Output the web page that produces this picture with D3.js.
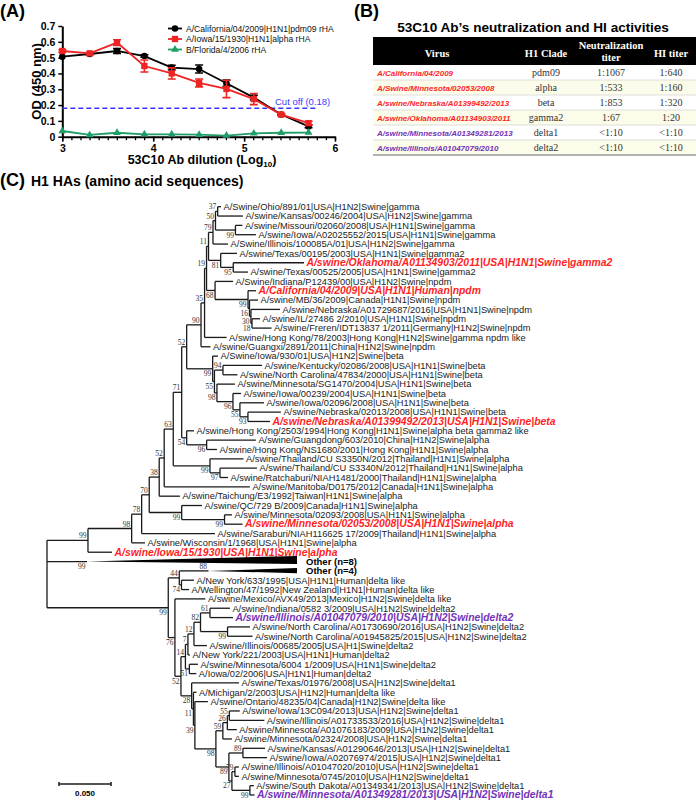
<!DOCTYPE html>
<html>
<head>
<meta charset="utf-8">
<script src="https://cdn.jsdelivr.net/npm/d3@7"></script>
<style>
  body { margin: 0; background: #fff; }
  svg { display: block; }
</style>
</head>
<body>
<div id="fig"></div>
<script>
// ---------- panel A data ----------
const dilution = [3.000, 3.301, 3.602, 3.903, 4.204, 4.505, 4.806, 5.107, 5.408, 5.709];
const odCalifornia = [0.506, 0.523, 0.542, 0.510, 0.437, 0.428, 0.338, 0.247, 0.140, 0.065];
const errCalifornia = [0.000, 0.004, 0.015, 0.008, 0.015, 0.025, 0.020, 0.015, 0.005, 0.008];
const odIowa = [0.542, 0.527, 0.595, 0.447, 0.400, 0.340, 0.302, 0.238, 0.140, 0.086];
const errIowa = [0.008, 0.005, 0.018, 0.038, 0.035, 0.025, 0.055, 0.035, 0.006, 0.012];
const odFlorida = [0.036, 0.011, 0.025, 0.015, 0.015, 0.013, 0.007, 0.021, 0.025, 0.026];
const seriesNames = ["A/California/04/2009|H1N1|pdm09 rHA", "A/Iowa/15/1930|H1N1|alpha rHA", "B/Florida/4/2006 rHA"];
const cutoff = 0.18;
const xTicksA = [3, 4, 5, 6];
const yTicksA = [0, 0.1, 0.2, 0.3, 0.4, 0.5, 0.6, 0.7];

// ---------- panel B data ----------
const tableViruses = ["A/California/04/2009", "A/Swine/Minnesota/02053/2008", "A/swine/Nebraska/A01399492/2013",
  "A/swine/Oklahoma/A01134903/2011", "A/swine/Minnesota/A01349281/2013", "A/swine/Illinois/A01047079/2010"];
const tableClades = ["pdm09", "alpha", "beta", "gamma2", "delta1", "delta2"];
const neutTiters = ["1:1067", "1:533", "1:853", "1:67", "<1:10", "<1:10"];
const hiTiters = ["1:640", "1:160", "1:320", "1:20", "<1:10", "<1:10"];
const virusNeutralized = [true, true, true, true, false, false];

// ---------- panel C data ----------
const leafNames = [
  "A/Swine/Ohio/891/01|USA|H1N2|Swine|gamma",
  "A/swine/Kansas/00246/2004|USA|H1N2|Swine|gamma",
  "A/swine/Missouri/02060/2008|USA|H1N1|Swine|gamma",
  "A/swine/Iowa/A02025552/2015|USA|H1N1|Swine|gamma",
  "A/Swine/Illinois/100085A/01|USA|H1N2|Swine|gamma",
  "A/swine/Texas/00195/2003|USA|H1N1|Swine|gamma2",
  "A/swine/Oklahoma/A01134903/2011|USA|H1N1|Swine|gamma2",
  "A/swine/Texas/00525/2005|USA|H1N1|Swine|gamma2",
  "A/Swine/Indiana/P12439/00|USA|H1N2|Swine|npdm",
  "A/California/04/2009|USA|H1N1|Human|npdm",
  "A/swine/MB/36/2009|Canada|H1N1|Swine|npdm",
  "A/swine/Nebraska/A01729687/2016|USA|H1N1|Swine|npdm",
  "A/swine/IL/27486 2/2010|USA|H1N1|Swine|npdm",
  "A/swine/Freren/IDT13837 1/2011|Germany|H1N2|Swine|npdm",
  "A/swine/Hong Kong/78/2003|Hong Kong|H1N2|Swine|gamma npdm like",
  "A/swine/Guangxi/2891/2011|China|H1N2|Swine|npdm",
  "A/Swine/Iowa/930/01|USA|H1N2|Swine|beta",
  "A/swine/Kentucky/02086/2008|USA|H1N1|Swine|beta",
  "A/swine/North Carolina/47834/2000|USA|H1N1|Swine|beta",
  "A/swine/Minnesota/SG1470/2004|USA|H1N1|Swine|beta",
  "A/swine/Iowa/00239/2004|USA|H1N1|Swine|beta",
  "A/swine/Iowa/02096/2008|USA|H1N1|Swine|beta",
  "A/swine/Nebraska/02013/2008|USA|H1N1|Swine|beta",
  "A/swine/Nebraska/A01399492/2013|USA|H1N1|Swine|beta",
  "A/swine/Hong Kong/2503/1994|Hong Kong|H1N1|Swine|alpha beta gamma2 like",
  "A/swine/Guangdong/603/2010|China|H1N2|Swine|alpha",
  "A/swine/Hong Kong/NS1680/2001|Hong Kong|H1N1|Swine|alpha",
  "A/swine/Thailand/CU S3350N/2012|Thailand|H1N1|Swine|alpha",
  "A/swine/Thailand/CU S3340N/2012|Thailand|H1N1|Swine|alpha",
  "A/swine/Ratchaburi/NIAH1481/2000|Thailand|H1N1|Swine|alpha",
  "A/swine/Manitoba/D0175/2012|Canada|H1N1|Swine|alpha",
  "A/swine/Taichung/E3/1992|Taiwan|H1N1|Swine|alpha",
  "A/swine/QC/729 B/2009|Canada|H1N1|Swine|alpha",
  "A/swine/Minnesota/02093/2008|USA|H1N1|Swine|alpha",
  "A/swine/Minnesota/02053/2008|USA|H1N1|Swine|alpha",
  "A/swine/Saraburi/NIAH116625 17/2009|Thailand|H1N1|Swine|alpha",
  "A/swine/Wisconsin/1/1968|USA|H1N1|Swine|alpha",
  "A/swine/Iowa/15/1930|USA|H1N1|Swine|alpha",
  "Other (n=8)",
  "Other (n=4)",
  "A/New York/633/1995|USA|H1N1|Human|delta like",
  "A/Wellington/47/1992|New Zealand|H1N1|Human|delta like",
  "A/swine/Mexico/AVX49/2013|Mexico|H1N2|Swine|delta like",
  "A/swine/Indiana/0582 3/2009|USA|H1N2|Swine|delta2",
  "A/swine/Illinois/A01047079/2010|USA|H1N2|Swine|delta2",
  "A/swine/North Carolina/A01730690/2016|USA|H1N2|Swine|delta2",
  "A/swine/North Carolina/A01945825/2015|USA|H1N2|Swine|delta2",
  "A/swine/Illinois/00685/2005|USA|H1|Swine|delta2",
  "A/New York/221/2003|USA|H1N1|Human|delta2",
  "A/swine/Minnesota/6004 1/2009|USA|H1N1|Swine|delta2",
  "A/Iowa/02/2006|USA|H1N1|Human|delta2",
  "A/swine/Texas/01976/2008|USA|H1N2|Swine|delta1",
  "A/Michigan/2/2003|USA|H1N2|Human|delta like",
  "A/swine/Ontario/48235/04|Canada|H1N2|Swine|delta like",
  "A/swine/Iowa/13C094/2013|USA|H1N2|Swine|delta1",
  "A/swine/Illinois/A01733533/2016|USA|H1N2|Swine|delta1",
  "A/swine/Minnesota/A01076183/2009|USA|H1N2|Swine|delta1",
  "A/swine/Minnesota/02324/2008|USA|H1N2|Swine|delta1",
  "A/swine/Kansas/A01290646/2013|USA|H1N2|Swine|delta1",
  "A/swine/Iowa/A02076974/2015|USA|H1N2|Swine|delta1",
  "A/swine/Illinois/A01047020/2010|USA|H1N2|Swine|delta1",
  "A/swine/Minnesota/0745/2010|USA|H1N2|Swine|delta1",
  "A/swine/South Dakota/A01349341/2013|USA|H1N2|Swine|delta1",
  "A/swine/Minnesota/A01349281/2013|USA|H1N2|Swine|delta1"
];
const redLeaves = [7, 10, 24, 35, 38];
const purpleLeaves = [45, 64];
const collapsedLeaves = [39, 40];
const collapsedCounts = [8, 4];
const collapsedDepths = [0.2019, 0.0851];
const collapsedBoot = [99, 88];

// tree topology, branch lengths (subst./site) and bootstrap values, newick pieces
const nwGamma = "((((L1:0.0032,L2:0.0243)37:0.0021,(L3:0.0067,L4:0.0197)99:0.0192)50:0.0024,L5:0.0144)79:0.0043,(L6:0.0157,(L7:0.0680,L8:0.0141)95:0.0121)81:0.0117)11:0.0019";
const nwNpdm = "(L9:0.0173,(L10:0.0077,(L11:0.0082,(L12:0.0279,(L13:0.0077,L14:0.0188)18:0.0010)30:0.0014)16:0.0014)99:0.0317)68:0.0082";
const nwBeta = "(L17:0.0051,((L18:0.0375,L19:0.0139)94:0.0082,(L20:0.0173,(L21:0.0077,(L22:0.0231,(L23:0.0317,L24:0.0212)93:0.0077)55:0.0067)96:0.0154)98:0.0024)55:0.0017)99:0.0250";
const nwAsia = "(L25:0.0070,(L26:0.0474,L27:0.0099)96:0.0192)54:0.0048";
const nwThai = "(L28:0.0322,(L29:0.0356,L30:0.0077)97:0.0096)99:0.0353";
const nwQC = "(L33:0.0195,(L34:0.0072,L35:0.0173)99:0.0412)99:0.0312";
const nwAlpha = `((((((((((((${nwGamma},${nwNpdm})19:0.0019,L15:0.0212)35:0.0034,L16:0.0091)90:0.0138,${nwBeta})52:0.0048,${nwAsia})71:0.0081,${nwThai})63:0.0087,L31:0.0824)52:0.0048,L32:0.0199)38:0.0096,${nwQC})70:0.0073,L36:0.0705)78:0.0096,L37:0.0128)98:0.0420,L38:0.0231)99:0.0394`;
const nwDelta2 = "((((L44:0.0192,L45:0.0221)61:0.0091,(L46:0.0216,L47:0.0240)99:0.0260)82:0.0063,L48:0.0125)12:0.0058,L49:0.0019)7:0.0024";
const nwD14 = `(${nwDelta2},(L50:0.0082,L51:0.0067)51:0.0038)14:0.0043`;
const nwDelta1 = "(L52:0.0455,(L53:0.0029,(L54:0.0125,((((L55:0.0101,L56:0.0337)55:0.0019,L57:0.0091)26:0.0043,L58:0.0087)59:0.0067,((L59:0.0212,L60:0.0231)89:0.0135,((L61:0.0038,L62:0.0038)79:0.0029,(L63:0.0038,L64:0.0045)99:0.0173)27:0.0029)89:0.0125)98:0.0202)39:0.0014)11:0.0017)28:0.0103";
const nwDelta = `((L40:0.0281,(L41:0.0120,L42:0.0072)74:0.0021)44:0.0106,(L43:0.0293,(${nwD14},${nwDelta1})52:0.0058)76:0.0064)99:0.1166`;
const treeNewick = `(${nwAlpha},L39:0.0385,${nwDelta});`;

const RED = "#ff1f1f", PURPLE = "#7434b8";
const SANS = "'Liberation Sans', Arial, sans-serif";
const SERIF = "'Liberation Serif', 'Times New Roman', serif";

const svg = d3.select("#fig").append("svg")
    .attr("width", 696)
    .attr("height", 800)
    .style("font-family", SANS);

// ================= panel A =================
const gA = svg.append("g");
const xA = d3.scaleLinear().domain([3, 6]).range([62.3, 335]);
const yA = d3.scaleLinear().domain([0, 0.7]).range([136.7, 26]);

gA.append("text").attr("x", 0).attr("y", 17)
    .attr("font-size", 18).attr("font-weight", "bold").text("(A)");

// minor x ticks
gA.append("g")
    .attr("transform", `translate(0,${yA(0)})`)
    .call(d3.axisBottom(xA).tickValues(d3.range(3, 6.0001, 0.1)).tickSize(3.5).tickSizeOuter(0).tickFormat(""))
    .call(g => g.select(".domain").remove())
    .call(g => g.selectAll("line").attr("stroke-width", 1.3));

const xAxisA = gA.append("g")
    .attr("transform", `translate(0,${yA(0)})`)
    .call(d3.axisBottom(xA).tickValues(xTicksA).tickSize(5).tickSizeOuter(0).tickFormat(d3.format("d")));

const yAxisA = gA.append("g")
    .attr("transform", `translate(${xA(3)},0)`)
    .call(d3.axisLeft(yA).tickValues(yTicksA).tickSize(4).tickSizeOuter(0)
      .tickFormat(d => d === 0 ? "0" : d3.format(".1f")(d)));

[xAxisA, yAxisA].forEach(ax => {
  ax.select(".domain").attr("stroke-width", 2);
  ax.selectAll(".tick line").attr("stroke-width", 1.5);
  ax.selectAll("text").attr("font-size", 10.5).attr("font-weight", "bold")
      .attr("font-family", SANS).attr("fill", "#000");
});

gA.append("text")
    .attr("transform", `translate(41,${yA(0.35)}) rotate(-90)`)
    .attr("text-anchor", "middle").attr("font-size", 13).attr("font-weight", "bold")
    .text("OD (450 nm)");

const xl = gA.append("text").attr("x", 202).attr("y", 164)
    .attr("text-anchor", "middle").attr("font-size", 12.5).attr("font-weight", "bold");
xl.append("tspan").text("53C10 Ab dilution (Log");
xl.append("tspan").attr("font-size", 8).attr("dy", 3).text("10");
xl.append("tspan").attr("dy", -3).text(")");

// cut-off line
gA.append("line")
    .attr("x1", xA(3)).attr("x2", xA(5.8))
    .attr("y1", yA(cutoff)).attr("y2", yA(cutoff))
    .attr("stroke", "#3a3aff").attr("stroke-width", 1.5).attr("stroke-dasharray", "5,3");
gA.append("text").attr("x", 275).attr("y", yA(cutoff) - 3)
    .attr("font-size", 9.5).attr("fill", "#3a3aff")
    .text(`Cut off (${cutoff})`);

const seriesA = [
  { name: seriesNames[0], values: odCalifornia, err: errCalifornia, color: "#000", symbol: d3.symbolCircle, size: 34 },
  { name: seriesNames[1], values: odIowa, err: errIowa, color: "#ee2424", symbol: d3.symbolSquare, size: 40 },
  { name: seriesNames[2], values: odFlorida, err: null, color: "#1f9e68", symbol: d3.symbolTriangle, size: 26 }
];

const lineA = d3.line().x((d, i) => xA(dilution[i])).y(d => yA(d));

seriesA.forEach(s => {
  const g = gA.append("g");
  g.append("path").attr("d", lineA(s.values))
      .attr("fill", "none").attr("stroke", s.color).attr("stroke-width", 1.8);
  if (s.err) {
    s.values.forEach((v, i) => {
      const e = s.err[i];
      if (e <= 0) return;
      const cx = xA(dilution[i]);
      g.append("path")
          .attr("d", `M${cx},${yA(v - e)}V${yA(v + e)}M${cx - 4},${yA(v - e)}H${cx + 4}M${cx - 4},${yA(v + e)}H${cx + 4}`)
          .attr("stroke", s.color).attr("stroke-width", 1.6).attr("fill", "none");
    });
  }
  g.selectAll(".pt").data(s.values).join("path")
      .attr("transform", (d, i) => `translate(${xA(dilution[i])},${yA(d)})`)
      .attr("d", d3.symbol(s.symbol, s.size))
      .attr("fill", s.color);
});

// legend
const legA = gA.append("g");
seriesA.forEach((s, i) => {
  const ly = 28.5 + i * 10.5;
  legA.append("line").attr("x1", 168).attr("x2", 182).attr("y1", ly).attr("y2", ly)
      .attr("stroke", s.color).attr("stroke-width", 1.8);
  legA.append("path").attr("transform", `translate(175,${ly})`)
      .attr("d", d3.symbol(s.symbol, s.size)).attr("fill", s.color);
  legA.append("text").attr("x", 186).attr("y", ly + 3)
      .attr("font-size", 8.6).attr("fill", "#111").text(s.name);
});

// ================= panel B =================
const gB = svg.append("g");
gB.append("text").attr("x", 354).attr("y", 17)
    .attr("font-size", 18).attr("font-weight", "bold").text("(B)");
gB.append("text").attr("x", 533).attr("y", 32)
    .attr("text-anchor", "middle").attr("font-size", 13.6).attr("font-weight", "bold")
    .text("53C10 Ab\u2019s neutralization and HI activities");

const tLeft = 373, tRight = 696, headTop = 37, headBot = 65, rowH = 15;
const colX = [437, 546, 611, 671];

gB.append("rect").attr("x", tLeft).attr("y", headTop)
    .attr("width", tRight - tLeft).attr("height", headBot - headTop).attr("fill", "#000");
const headStyle = t => t.attr("fill", "#fff").attr("font-family", SERIF)
    .attr("font-weight", "bold").attr("font-size", 10.5).attr("text-anchor", "middle");
headStyle(gB.append("text").attr("x", colX[0]).attr("y", 57).text("Virus"));
headStyle(gB.append("text").attr("x", colX[1]).attr("y", 57).text("H1 Clade"));
headStyle(gB.append("text").attr("x", colX[2]).attr("y", 48.5).text("Neutralization"));
headStyle(gB.append("text").attr("x", colX[2]).attr("y", 61).text("titer"));
headStyle(gB.append("text").attr("x", colX[3]).attr("y", 57).text("HI titer"));

tableViruses.forEach((v, i) => {
  const top = headBot + i * rowH;
  const mid = top + rowH / 2;
  gB.append("rect").attr("x", tLeft).attr("y", top).attr("width", tRight - tLeft).attr("height", rowH)
      .attr("fill", i % 2 ? "#fcfcea" : "#fff");
  if (i > 0) {
    gB.append("line").attr("x1", tLeft).attr("x2", tRight).attr("y1", top).attr("y2", top)
        .attr("stroke", "#d6d6d6").attr("stroke-width", 0.8);
  }
  gB.append("text").attr("x", tLeft + 4).attr("y", mid + 3)
      .attr("font-size", 8).attr("font-weight", "bold").attr("font-style", "italic")
      .attr("fill", virusNeutralized[i] ? RED : PURPLE).text(v);
  [tableClades[i], neutTiters[i], hiTiters[i]].forEach((t, j) => {
    gB.append("text").attr("x", colX[j + 1]).attr("y", mid + 3.5)
        .attr("text-anchor", "middle").attr("font-family", SERIF).attr("font-size", 10)
        .attr("fill", "#333").text(t);
  });
});
gB.append("line").attr("x1", tLeft).attr("x2", tRight)
    .attr("y1", headBot + tableViruses.length * rowH).attr("y2", headBot + tableViruses.length * rowH)
    .attr("stroke", "#9a9a9a").attr("stroke-width", 1.6);

// ================= panel C =================
const gC = svg.append("g");
gC.append("text").attr("x", 0).attr("y", 186)
    .attr("font-size", 18).attr("font-weight", "bold").text("(C)");
gC.append("text").attr("x", 31).attr("y", 186)
    .attr("font-size", 14).attr("font-weight", "bold").text("H1 HAs (amino acid sequences)");

function parseNewick(s) {
  let i = 0;
  function node() {
    const n = { children: [] };
    if (s[i] === "(") {
      i++;
      n.children.push(node());
      while (s[i] === ",") { i++; n.children.push(node()); }
      i++;
    }
    let name = "";
    while (i < s.length && !",():;".includes(s[i])) name += s[i++];
    n.name = name;
    n.length = 0;
    if (s[i] === ":") {
      i++;
      let len = "";
      while (i < s.length && !",();".includes(s[i])) len += s[i++];
      n.length = +len;
    }
    return n;
  }
  return node();
}

const root = d3.hierarchy(parseNewick(treeNewick), d => d.children.length ? d.children : null);
root.eachBefore(d => { d.dist = d.parent ? d.parent.dist + d.data.length : 0; });
const leaves = root.leaves();

const xT = d3.scaleLinear().domain([0, 0.05]).range([47, 99]);
const yT = d3.scaleLinear().domain([0, leaves.length - 1]).range([206.7, 795]);
leaves.forEach((d, i) => { d.yPos = yT(i); d.num = +d.data.name.slice(1); });
root.eachAfter(d => {
  if (d.children) d.yPos = (d.children[0].yPos + d.children[d.children.length - 1].yPos) / 2;
});

const treeStroke = "#1a1a1a";
const links = gC.append("g").attr("stroke", treeStroke).attr("stroke-width", 1.3).attr("fill", "none");
root.descendants().forEach(d => {
  if (d.parent) {
    links.append("line")
        .attr("x1", xT(d.parent.dist)).attr("x2", xT(d.dist))
        .attr("y1", d.yPos).attr("y2", d.yPos);
  }
  if (d.children) {
    links.append("line")
        .attr("x1", xT(d.dist)).attr("x2", xT(d.dist))
        .attr("y1", d.children[0].yPos).attr("y2", d.children[d.children.length - 1].yPos);
  }
});

// bootstrap values
const bootG = gC.append("g").attr("font-family", SERIF).attr("font-size", 7.5)
    .attr("fill", "#333").attr("text-anchor", "end");
function bootLabel(d, value) {
  const isTop = d.parent.children[0] === d;
  bootG.append("text")
      .attr("x", xT(d.dist) - 1.5)
      .attr("y", isTop ? d.yPos - 2 : d.yPos + 7.5)
      .text(value);
}
root.descendants().forEach(d => {
  if (d.children && d.parent && d.data.name !== "") bootLabel(d, d.data.name);
});

// leaves
const labelG = gC.append("g");
leaves.forEach(d => {
  const ci = collapsedLeaves.indexOf(d.num);
  const name = leafNames[d.num - 1];
  if (ci >= 0) {
    const xa = xT(d.dist), xe = xT(d.dist + collapsedDepths[ci]);
    const n = collapsedCounts[ci];
    gC.append("path")
        .attr("d", `M${xa},${d.yPos}L${xe},${d.yPos - n * 0.7}L${xe},${d.yPos + 2.4}Z`)
        .attr("fill", "#000");
    bootLabel(d, collapsedBoot[ci]);
    labelG.append("text").attr("x", xe + 9).attr("y", d.yPos + 3.2)
        .attr("font-size", 9.5).attr("font-weight", "bold").text(name);
    return;
  }
  const red = redLeaves.includes(d.num), purple = purpleLeaves.includes(d.num);
  const t = labelG.append("text").attr("x", xT(d.dist) + 2.5).attr("y", d.yPos + 3.3).text(name);
  if (red || purple) {
    t.attr("font-size", 10.4).attr("font-weight", "bold").attr("font-style", "italic")
        .attr("fill", red ? RED : PURPLE);
  } else {
    t.attr("font-size", 9.3).attr("fill", "#222");
  }
});

// scale bar
const barX = 59, barY = 784, barLen = 0.05;
const bar = gC.append("g").attr("stroke", treeStroke).attr("stroke-width", 1.5);
bar.append("line").attr("x1", barX).attr("x2", barX + xT(barLen) - xT(0)).attr("y1", barY).attr("y2", barY);
bar.append("line").attr("x1", barX).attr("x2", barX).attr("y1", barY - 2).attr("y2", barY + 2);
bar.append("line").attr("x1", barX + xT(barLen) - xT(0)).attr("x2", barX + xT(barLen) - xT(0))
    .attr("y1", barY - 2).attr("y2", barY + 2);
gC.append("text").attr("x", barX + (xT(barLen) - xT(0)) / 2).attr("y", barY + 12)
    .attr("text-anchor", "middle").attr("font-size", 8).attr("font-weight", "bold")
    .text(d3.format(".3f")(barLen));
</script>
</body>
</html>
